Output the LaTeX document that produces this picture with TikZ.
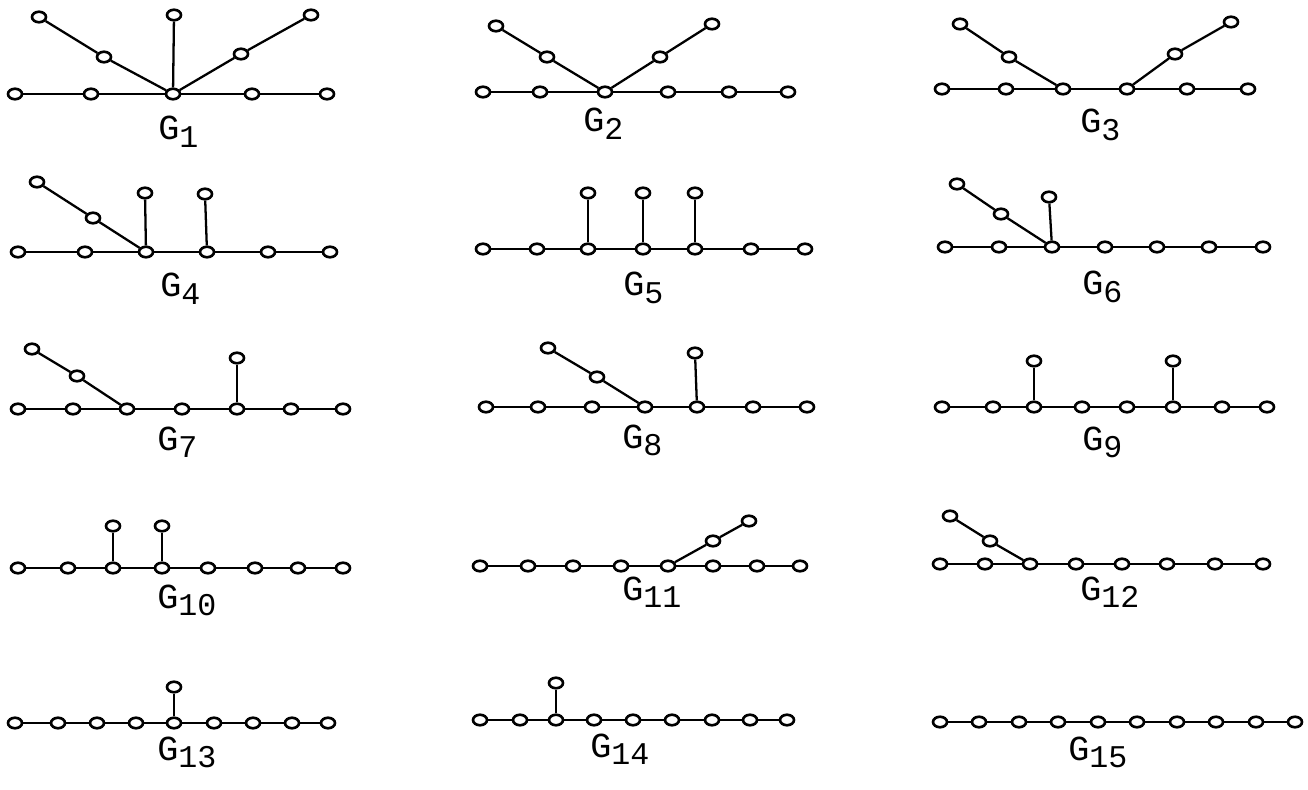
\documentclass[tikz,border=0pt]{standalone}
\usepackage{fontspec}
\usepackage{tikz}
\usetikzlibrary{shapes.geometric}
\newfontfamily\typefont{Liberation Mono}
\newcommand\gsub[1]{\raisebox{-4pt}{\fontsize{18}{18}\selectfont#1}}

\begin{document}
\begin{tikzpicture}[
  x=0.02cm, y=-0.02cm,
  vtx/.style={ellipse,draw,fill=white,line width=1.5pt,minimum width=0.28cm,minimum height=0.21cm,inner sep=0pt},
  edge/.style={line width=1.3pt},
  lbl/.style={anchor=base west,inner sep=0pt,font=\typefont\fontsize{20}{20}\selectfont},
]
\useasboundingbox (0,0) rectangle (1308,790);

% G1
\foreach \x [count=\i] in {15,91,173,252,327} \node[vtx] (g1-\i) at (\x,94) {};
\foreach \i [count=\j from 2] in {1,...,4} \draw[edge] (g1-\i) -- (g1-\j);
\node[vtx] (g1a) at (39,17) {};
\node[vtx] (g1b) at (104,57) {};
\node[vtx] (g1c) at (174,15) {};
\node[vtx] (g1d) at (241,54) {};
\node[vtx] (g1e) at (311,15) {};
\draw[edge] (g1-3) -- (g1b) -- (g1a);
\draw[edge] (g1-3) -- (g1c);
\draw[edge] (g1-3) -- (g1d) -- (g1e);
\node[lbl] (l1) at (158,140) {G\gsub{1}};

% G2
\foreach \x [count=\i] in {483,540,605,668,729,788} \node[vtx] (g2-\i) at (\x,92) {};
\foreach \i [count=\j from 2] in {1,...,5} \draw[edge] (g2-\i) -- (g2-\j);
\node[vtx] (g2a) at (496,26) {};
\node[vtx] (g2b) at (547,57) {};
\node[vtx] (g2d) at (660,57) {};
\node[vtx] (g2e) at (712,24) {};
\draw[edge] (g2-3) -- (g2b) -- (g2a);
\draw[edge] (g2-3) -- (g2d) -- (g2e);
\node[lbl] (l2) at (583,132) {G\gsub{2}};

% G3
\foreach \x [count=\i] in {942,1006,1063,1127,1187,1248} \node[vtx] (g3-\i) at (\x,89) {};
\foreach \i [count=\j from 2] in {1,...,5} \draw[edge] (g3-\i) -- (g3-\j);
\node[vtx] (g3a) at (960,24) {};
\node[vtx] (g3b) at (1009,57) {};
\node[vtx] (g3d) at (1175,54) {};
\node[vtx] (g3e) at (1231,22) {};
\draw[edge] (g3-3) -- (g3b) -- (g3a);
\draw[edge] (g3-4) -- (g3d) -- (g3e);
\node[lbl] (l3) at (1080,133) {G\gsub{3}};

% G4
\foreach \x [count=\i] in {18,85,146,207,268,330} \node[vtx] (g4-\i) at (\x,252) {};
\foreach \i [count=\j from 2] in {1,...,5} \draw[edge] (g4-\i) -- (g4-\j);
\node[vtx] (g4a) at (37,182) {};
\node[vtx] (g4b) at (93,218) {};
\node[vtx] (g4c) at (145,193) {};
\node[vtx] (g4d) at (205,194) {};
\draw[edge] (g4-3) -- (g4b) -- (g4a);
\draw[edge] (g4-3) -- (g4c);
\draw[edge] (g4-4) -- (g4d);
\node[lbl] (l4) at (160,297) {G\gsub{4}};

% G5
\foreach \x [count=\i] in {483,537,588,643,695,751,805} \node[vtx] (g5-\i) at (\x,249) {};
\foreach \i [count=\j from 2] in {1,...,6} \draw[edge] (g5-\i) -- (g5-\j);
\node[vtx] (g5a) at (588,193) {};
\node[vtx] (g5b) at (643,193) {};
\node[vtx] (g5c) at (695,193) {};
\draw[edge] (g5-3) -- (g5a);
\draw[edge] (g5-4) -- (g5b);
\draw[edge] (g5-5) -- (g5c);
\node[lbl] (l5) at (623,296) {G\gsub{5}};

% G6
\foreach \x [count=\i] in {945,999,1052,1105,1157,1209,1263} \node[vtx] (g6-\i) at (\x,247) {};
\foreach \i [count=\j from 2] in {1,...,6} \draw[edge] (g6-\i) -- (g6-\j);
\node[vtx] (g6a) at (957,184) {};
\node[vtx] (g6b) at (1001,214) {};
\node[vtx] (g6c) at (1049,197) {};
\draw[edge] (g6-3) -- (g6b) -- (g6a);
\draw[edge] (g6-3) -- (g6c);
\node[lbl] (l6) at (1082,295) {G\gsub{6}};

% G7
\foreach \x [count=\i] in {18,73,127,182,237,291,343} \node[vtx] (g7-\i) at (\x,409) {};
\foreach \i [count=\j from 2] in {1,...,6} \draw[edge] (g7-\i) -- (g7-\j);
\node[vtx] (g7a) at (32,349) {};
\node[vtx] (g7b) at (77,376) {};
\node[vtx] (g7c) at (237,358) {};
\draw[edge] (g7-3) -- (g7b) -- (g7a);
\draw[edge] (g7-5) -- (g7c);
\node[lbl] (l7) at (157,450) {G\gsub{7}};

% G8
\foreach \x [count=\i] in {486,538,592,645,697,753,807} \node[vtx] (g8-\i) at (\x,407) {};
\foreach \i [count=\j from 2] in {1,...,6} \draw[edge] (g8-\i) -- (g8-\j);
\node[vtx] (g8a) at (548,348) {};
\node[vtx] (g8b) at (597,377) {};
\node[vtx] (g8c) at (695,353) {};
\draw[edge] (g8-4) -- (g8b) -- (g8a);
\draw[edge] (g8-5) -- (g8c);
\node[lbl] (l8) at (622,448) {G\gsub{8}};

% G9
\foreach \x [count=\i] in {942,993,1034,1082,1127,1173,1222,1267} \node[vtx] (g9-\i) at (\x,407) {};
\foreach \i [count=\j from 2] in {1,...,7} \draw[edge] (g9-\i) -- (g9-\j);
\node[vtx] (g9a) at (1034,361) {};
\node[vtx] (g9b) at (1173,361) {};
\draw[edge] (g9-3) -- (g9a);
\draw[edge] (g9-6) -- (g9b);
\node[lbl] (l9) at (1082,450) {G\gsub{9}};

% G10
\foreach \x [count=\i] in {18,68,113,162,208,255,298,343} \node[vtx] (g10-\i) at (\x,568) {};
\foreach \i [count=\j from 2] in {1,...,7} \draw[edge] (g10-\i) -- (g10-\j);
\node[vtx] (g10a) at (113,526) {};
\node[vtx] (g10b) at (162,526) {};
\draw[edge] (g10-3) -- (g10a);
\draw[edge] (g10-4) -- (g10b);
\node[lbl] (l10) at (157,608) {G\gsub{10}};

% G11
\foreach \x [count=\i] in {480,528,573,621,668,713,757,800} \node[vtx] (g11-\i) at (\x,566) {};
\foreach \i [count=\j from 2] in {1,...,7} \draw[edge] (g11-\i) -- (g11-\j);
\node[vtx] (g11a) at (749,521) {};
\node[vtx] (g11b) at (713,541) {};
\draw[edge] (g11-5) -- (g11b) -- (g11a);
\node[lbl] (l11) at (622,600) {G\gsub{11}};

% G12
\foreach \x [count=\i] in {940,985,1030,1076,1122,1167,1215,1263} \node[vtx] (g12-\i) at (\x,564) {};
\foreach \i [count=\j from 2] in {1,...,7} \draw[edge] (g12-\i) -- (g12-\j);
\node[vtx] (g12a) at (950,516) {};
\node[vtx] (g12b) at (990,541) {};
\draw[edge] (g12-3) -- (g12b) -- (g12a);
\node[lbl] (l12) at (1080,600) {G\gsub{12}};

% G13
\foreach \x [count=\i] in {15,58,97,136,174,214,253,292,328} \node[vtx] (g13-\i) at (\x,723) {};
\foreach \i [count=\j from 2] in {1,...,8} \draw[edge] (g13-\i) -- (g13-\j);
\node[vtx] (g13a) at (174,687) {};
\draw[edge] (g13-5) -- (g13a);
\node[lbl] (l13) at (157,760) {G\gsub{13}};

% G14
\foreach \x [count=\i] in {480,520,556,594,633,672,712,750,787} \node[vtx] (g14-\i) at (\x,720) {};
\foreach \i [count=\j from 2] in {1,...,8} \draw[edge] (g14-\i) -- (g14-\j);
\node[vtx] (g14a) at (556,683) {};
\draw[edge] (g14-3) -- (g14a);
\node[lbl] (l14) at (590,757) {G\gsub{14}};

% G15
\foreach \x [count=\i] in {940,979,1019,1058,1098,1137,1177,1216,1256,1295} \node[vtx] (g15-\i) at (\x,722) {};
\foreach \i [count=\j from 2] in {1,...,9} \draw[edge] (g15-\i) -- (g15-\j);
\node[lbl] (l15) at (1068,760) {G\gsub{15}};
\end{tikzpicture}
\end{document}
